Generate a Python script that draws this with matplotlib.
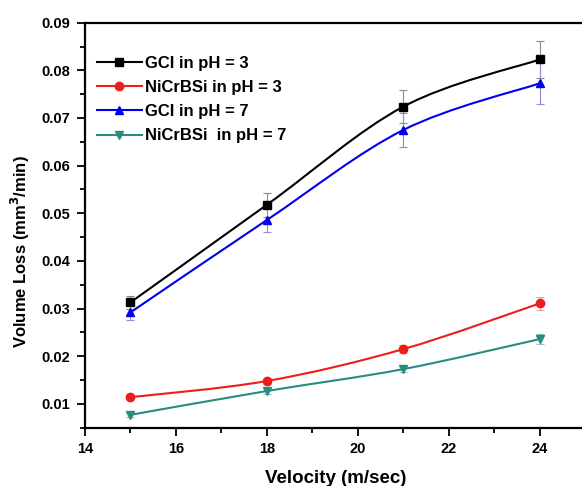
import numpy as np
import matplotlib
matplotlib.use("Agg")
import matplotlib.pyplot as plt
from matplotlib.path import Path
from matplotlib.patches import PathPatch
from matplotlib.ticker import MultipleLocator

plt.rcParams['font.family'] = ['Liberation Sans', 'DejaVu Sans']
plt.rcParams['font.weight'] = 'bold'
plt.rcParams['mathtext.default'] = 'bf'

velocity = [15, 18, 21, 24]

gci_ph3 = [0.0313, 0.0518, 0.0724, 0.0823]
gci_ph3_err = [0.0013, 0.0025, 0.0034, 0.0039]
nicrbsi_ph3 = [0.0114, 0.0148, 0.0215, 0.0311]
nicrbsi_ph3_err = [0.0006, 0.0007, 0.0009, 0.0014]
gci_ph7 = [0.0292, 0.0486, 0.0675, 0.0773]
gci_ph7_err = [0.0015, 0.0025, 0.0035, 0.0044]
nicrbsi_ph7 = [0.0077, 0.0127, 0.0173, 0.0236]
nicrbsi_ph7_err = [0.0005, 0.0006, 0.0007, 0.0010]

labels = ['GCI in pH = 3', 'NiCrBSi in pH = 3', 'GCI in pH = 7', 'NiCrBSi  in pH = 7']


def smooth_path(x, y):
    # catmull-rom segments drawn as cubic bezier curves
    x = np.asarray(x, float)
    y = np.asarray(y, float)
    n = len(x)
    verts = [(x[0], y[0])]
    codes = [Path.MOVETO]
    for i in range(n - 1):
        i0 = max(i - 1, 0)
        i3 = min(i + 2, n - 1)
        c1 = (x[i] + (x[i + 1] - x[i0]) / 6, y[i] + (y[i + 1] - y[i0]) / 6)
        c2 = (x[i + 1] - (x[i3] - x[i]) / 6, y[i + 1] - (y[i3] - y[i]) / 6)
        verts += [c1, c2, (x[i + 1], y[i + 1])]
        codes += [Path.CURVE4] * 3
    return Path(verts, codes)


fig = plt.figure(figsize=(5.82, 4.86), dpi=100)
ax = fig.add_axes([0.146, 0.12, 0.86, 0.8333])

series = [
    (gci_ph3, gci_ph3_err, 'black', 's', '#8a8a8a'),
    (nicrbsi_ph3, nicrbsi_ph3_err, '#ee1c1c', 'o', '#f2a0a0'),
    (gci_ph7, gci_ph7_err, '#0000ee', '^', '#8c8cd8'),
    (nicrbsi_ph7, nicrbsi_ph7_err, '#2a8c7e', 'v', '#90c4bc'),
]

for (vals, err, col, mk, ecol), lab in zip(series, labels):
    ax.errorbar(velocity, vals, yerr=err, fmt='none', ecolor=ecol,
                elinewidth=0.8, capsize=3, capthick=0.8, zorder=2)
    ax.add_patch(PathPatch(smooth_path(velocity, vals), facecolor='none',
                           edgecolor=col, lw=1.5, zorder=3))
    ax.plot(velocity, vals, linestyle='none', marker=mk, color=col,
            markersize=6, zorder=4)
    ax.plot([], [], '-', marker=mk, color=col, markersize=6, lw=1.5, label=lab)

ax.set_xlim(14, 25)
ax.set_ylim(0.005, 0.09)
ax.xaxis.set_major_locator(MultipleLocator(2))
ax.xaxis.set_minor_locator(MultipleLocator(1))
ax.yaxis.set_major_locator(MultipleLocator(0.01))
ax.yaxis.set_minor_locator(MultipleLocator(0.005))
ax.yaxis.set_major_formatter(plt.FormatStrFormatter('%.2f'))
ax.tick_params(which='both', direction='out', width=1.3, labelsize=10.5)
ax.tick_params(which='major', length=5.5, pad=5)
ax.tick_params(which='minor', length=3.5)
for s in ax.spines.values():
    s.set_linewidth(1.6)

ax.set_xlabel('Velocity (m/sec)', fontsize=13.5, fontweight='bold', labelpad=10)
ax.set_ylabel('Volume Loss (mm$^3$/min)', fontsize=12, fontweight='bold')
ax.yaxis.set_label_coords(-0.106, 0.435)

ax.legend(loc='upper left', frameon=False, fontsize=12, handlelength=2.7,
          borderpad=0, borderaxespad=0, labelspacing=0.55, handletextpad=0.2,
          bbox_to_anchor=(0.024, 0.918))

fig.savefig('out.png', dpi=100)
